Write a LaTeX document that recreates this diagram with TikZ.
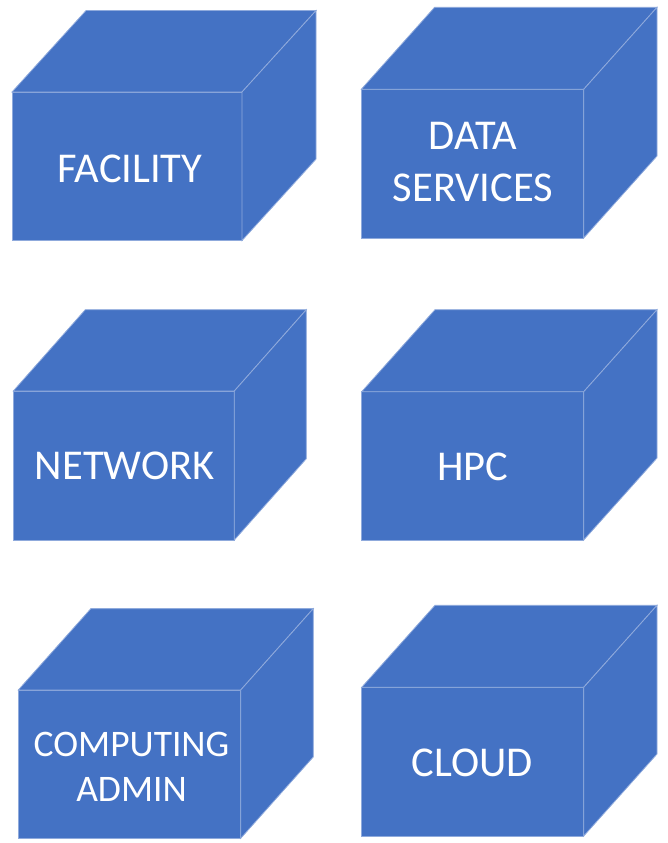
\documentclass[tikz,border=0pt]{standalone}
\usepackage{fontspec}
\setmainfont{Carlito}
\definecolor{cubefill}{HTML}{4472C4}
\definecolor{cubeedge}{HTML}{8FAADC}
\tikzset{
  face/.style={fill=cubefill, draw=cubeedge, line width=0.8pt, line join=miter},
  label/.style={text=white, font=\fontsize{42.5}{52.4}\selectfont, align=center, anchor=base, inner sep=0pt},
  smalllabel/.style={label, font=\fontsize{37.5}{45.7}\selectfont},
}
% \cubebox{x1}{y1}{x2}{y2}{dx}{dy}
\newcommand{\cubebox}[6]{%
  \draw[face] (#1,#2) rectangle (#3,#4);
  \draw[face] (#1,#2) -- ({#1+#5},{#2-#6}) -- ({#3+#5},{#2-#6}) -- (#3,#2) -- cycle;
  \draw[face] (#3,#2) -- ({#3+#5},{#2-#6}) -- ({#3+#5},{#4-#6}) -- (#3,#4) -- cycle;
}
\begin{document}
\begin{tikzpicture}[x=1pt,y=-1pt]
\useasboundingbox (0,0) rectangle (667,843);
\cubebox{12}{92}{242}{240.5}{74}{81.4}
\cubebox{361.3}{89.3}{583.7}{238}{73.3}{82}
\cubebox{13.3}{391}{234.3}{540}{72}{81.3}
\cubebox{361.7}{391.7}{583.7}{540}{73.3}{82}
\cubebox{18.3}{690}{240.7}{838.3}{72.6}{81.4}
\cubebox{361.7}{687.3}{583.7}{836}{73.3}{82}
\node[label] (facility) at (130,182.7) {FACILITY};
\node[label] (data) at (473,201.7) {DATA\\SERVICES};
\node[label] (network) at (124.7,479) {NETWORK};
\node[label] (hpc) at (473,480.7) {HPC};
\node[smalllabel] (admin) at (131.5,801.7) {COMPUTING\\ADMIN};
\node[label] (cloud) at (472.3,776) {CLOUD};
\end{tikzpicture}
\end{document}
